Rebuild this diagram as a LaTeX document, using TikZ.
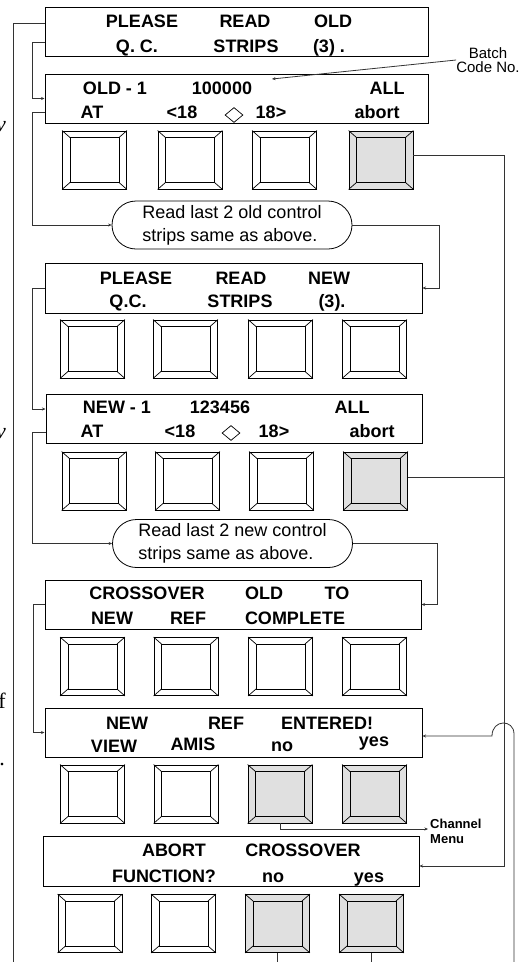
\documentclass[tikz,border=0pt]{standalone}
\usepackage{fontspec}
\setmainfont{Liberation Sans}
\newfontfamily\strayfont{Liberation Serif}
\usetikzlibrary{arrows.meta,shapes.geometric,shapes.misc,fit}
\definecolor{btngray}{gray}{0.88}
\definecolor{lnc}{gray}{0.2}
\newcommand\mybtn[4]{%
  \node[btn, fill=#4] (#1) at (#2,#3) {};
  \draw[btnline, fill=#4] ([shift={(8,7)}]#1.north west) rectangle ([shift={(-8,-7)}]#1.south east);
  \draw[btnline] (#1.north west) -- ([shift={(8,7)}]#1.north west)
                 (#1.north east) -- ([shift={(-8,7)}]#1.north east)
                 (#1.south west) -- ([shift={(8,-7)}]#1.south west)
                 (#1.south east) -- ([shift={(-8,-7)}]#1.south east);
}
\begin{document}
\begin{tikzpicture}[x=1pt,y=-1pt,
  box/.style={draw, line width=1pt, inner sep=0pt, rectangle},
  btn/.style={draw, line width=0.8pt, inner sep=0pt, minimum width=64pt, minimum height=58pt},
  btnline/.style={line width=0.7pt},
  lbl/.style={anchor=base, inner sep=0pt, font=\fontsize{18}{20}\selectfont\bfseries},
  oval/.style={draw, rounded rectangle, line width=0.8pt, minimum width=240pt, minimum height=48pt, inner sep=0pt, align=left, font=\fontsize{18}{23}\selectfont},
  conn/.style={draw=lnc, line width=0.8pt},
  arr/.style={conn, -{Stealth[length=3.5pt,width=3pt]}},
  dia/.style={draw, diamond, inner sep=0pt, minimum width=18pt, minimum height=15pt, line width=0.7pt},
  stray/.style={inner sep=0pt, font=\strayfont\fontsize{22}{24}\selectfont}
]
\useasboundingbox (0,0) rectangle (532,962);

% helper coordinates
\coordinate (bot) at (0,962);
\coordinate (botL) at (13,962);
\coordinate (L1) at (32,98.5);
\coordinate (L2) at (32,225);
\coordinate (L3) at (32,409);
\coordinate (L4) at (32,543.5);
\coordinate (L5) at (33,732.5);
\coordinate (r1) at (439,288);
\coordinate (r2) at (437,604.5);
\coordinate (rvA) at (504,866);
\coordinate (hopB) at (514,962);
\coordinate (cm) at (428,829);
\coordinate (bcEnd) at (272,79);

% stray glyph fragments at the left edge
\node[stray, anchor=base east] (s1) at (6,131) {\itshape v};
\node[stray, anchor=base east] (s2) at (6,438) {\itshape v};
\node[stray, anchor=base east] (s3) at (6,708) {f};
\node[stray, anchor=base east] (s4) at (5,765) {.};

% display boxes
\node[box, fit={(45,7) (428,56)}] (b1) {};
\node[box, fit={(45,74) (428,123)}] (b2) {};
\node[box, fit={(45,263) (422,313)}] (b3) {};
\node[box, fit={(46,394) (422,443)}] (b4) {};
\node[box, fit={(45,580) (421,629)}] (b5) {};
\node[box, fit={(45,708) (422,757)}] (b6) {};
\node[box, fit={(43,836) (419,886)}] (b7) {};

% box 1 text
\node[lbl] (t1a) at (142,27) {PLEASE};
\node[lbl] (t1b) at (245,27) {READ};
\node[lbl] (t1c) at (333,27) {OLD};
\node[lbl] (t1d) at (137,52) {Q. C.};
\node[lbl] (t1e) at (246,52) {STRIPS};
\node[lbl] (t1f) at (329,52) {(3) .};

% box 2 text
\node[lbl] (t2a) at (115,94) {OLD - 1};
\node[lbl] (t2b) at (222,94) {100000};
\node[lbl] (t2c) at (387,94) {ALL};
\node[lbl] (t2d) at (92,118) {AT};
\node[lbl] (t2e) at (182,118) {<18};
\node[dia] (d2) at (234,115) {};
\node[lbl] (t2f) at (271,118) {18>};
\node[lbl] (t2g) at (377,118) {abort};

% batch code label
\node[align=center, inner sep=0pt, font=\fontsize{15}{14}\selectfont] (bc) at (488,60) {Batch\\Code No.};
\draw[arr] (bc.west) -- (bcEnd);

% box 3 text
\node[lbl] (t3a) at (136,284) {PLEASE};
\node[lbl] (t3b) at (241,284) {READ};
\node[lbl] (t3c) at (329,284) {NEW};
\node[lbl] (t3d) at (128,307) {Q.C.};
\node[lbl] (t3e) at (240,307) {STRIPS};
\node[lbl] (t3f) at (332,307) {(3).};

% box 4 text
\node[lbl] (t4a) at (117,413) {NEW - 1};
\node[lbl] (t4b) at (220,413) {123456};
\node[lbl] (t4c) at (352,413) {ALL};
\node[lbl] (t4d) at (92,437) {AT};
\node[lbl] (t4e) at (180,437) {<18};
\node[dia] (d4) at (231,433) {};
\node[lbl] (t4f) at (274,437) {18>};
\node[lbl] (t4g) at (372,437) {abort};

% box 5 text
\node[lbl] (t5a) at (147,599) {CROSSOVER};
\node[lbl] (t5b) at (264,599) {OLD};
\node[lbl] (t5c) at (337,599) {TO};
\node[lbl] (t5d) at (112,624) {NEW};
\node[lbl] (t5e) at (188,624) {REF};
\node[lbl] (t5f) at (295,624) {COMPLETE};

% box 6 text
\node[lbl] (t6a) at (127,729) {NEW};
\node[lbl] (t6b) at (226,729) {REF};
\node[lbl] (t6c) at (327,729) {ENTERED!};
\node[lbl] (t6d) at (114,752) {VIEW};
\node[lbl] (t6e) at (193,750) {AMIS};
\node[lbl] (t6f) at (282,751) {no};
\node[lbl] (t6g) at (374,746) {yes};

% box 7 text
\node[lbl] (t7a) at (174,856) {ABORT};
\node[lbl] (t7b) at (303,856) {CROSSOVER};
\node[lbl] (t7c) at (164,882) {FUNCTION?};
\node[lbl] (t7d) at (273,882) {no};
\node[lbl] (t7e) at (369,882) {yes};

% ovals
\node[oval] (o1) at (232,225) {Read last 2 old control\\strips same as above.};
\node[oval] (o2) at (232.5,543.5) {Read last 2 new control\\strips same as above.};

% buttons
\mybtn{k11}{94.5}{160}{white}
\mybtn{k12}{190}{160}{white}
\mybtn{k13}{284.5}{160}{white}
\mybtn{k14}{381}{160}{btngray}

\mybtn{k21}{92.5}{349}{white}
\mybtn{k22}{185.5}{349}{white}
\mybtn{k23}{280.5}{349}{white}
\mybtn{k24}{374.5}{349}{white}

\mybtn{k31}{94}{481}{white}
\mybtn{k32}{187.5}{481}{white}
\mybtn{k33}{281.5}{481}{white}
\mybtn{k34}{375.5}{481}{btngray}

\mybtn{k41}{92.5}{666.5}{white}
\mybtn{k42}{186}{666.5}{white}
\mybtn{k43}{280.5}{666.5}{white}
\mybtn{k44}{374.5}{666.5}{white}

\mybtn{k51}{92.5}{794}{white}
\mybtn{k52}{186}{794}{white}
\mybtn{k53}{280}{794}{btngray}
\mybtn{k54}{374.5}{794}{btngray}

\mybtn{k61}{90}{923.5}{white}
\mybtn{k62}{183.5}{923.5}{white}
\mybtn{k63}{277.5}{923.5}{btngray}
\mybtn{k64}{371.5}{923.5}{btngray}

% left-side connectors
\draw[conn] ([yshift=8.5pt]b1.west) -| (botL);
\draw[arr] ([yshift=-10.5pt]b1.west) -| (L1) -- (b2.west);
\draw[arr] ([yshift=-13.5pt]b2.west) -| (L2) -- (o1.west);
\draw[arr] (b3.west) -| (L3) -- (L3 -| b4.west);
\draw[arr] ([yshift=-13.5pt]b4.west) -| (L4) -- (o2.west);
\draw[arr] (b5.west) -| (L5) -- (b6.west);

% right-side connectors
\draw[arr] (o1.east) -| (r1) -- (b3.east);
\draw[arr] (o2.east) -| (r2) -- (b5.east);
\draw[arr] ([yshift=5pt]k14.east) -| (rvA) -- (rvA -| b7.east);
\draw[conn] ([yshift=4pt]k34.east) -- ([yshift=4pt]k34.east -| rvA);
\draw[arr] (hopB) -- (514,734) .. controls (514,719) and (492,719) .. (492,736) -- (492,736 -| b6.east);

% channel menu
\draw[arr] (k53.south) |- (cm);
\node[anchor=west, align=left, inner sep=0pt, font=\fontsize{13}{15}\selectfont\bfseries] (chm) at (430,831) {Channel\\Menu};

% lines leaving at the bottom
\draw[conn] (k63.south) -- (k63.south |- bot);
\draw[conn] (k64.south) -- (k64.south |- bot);
\end{tikzpicture}
\end{document}
